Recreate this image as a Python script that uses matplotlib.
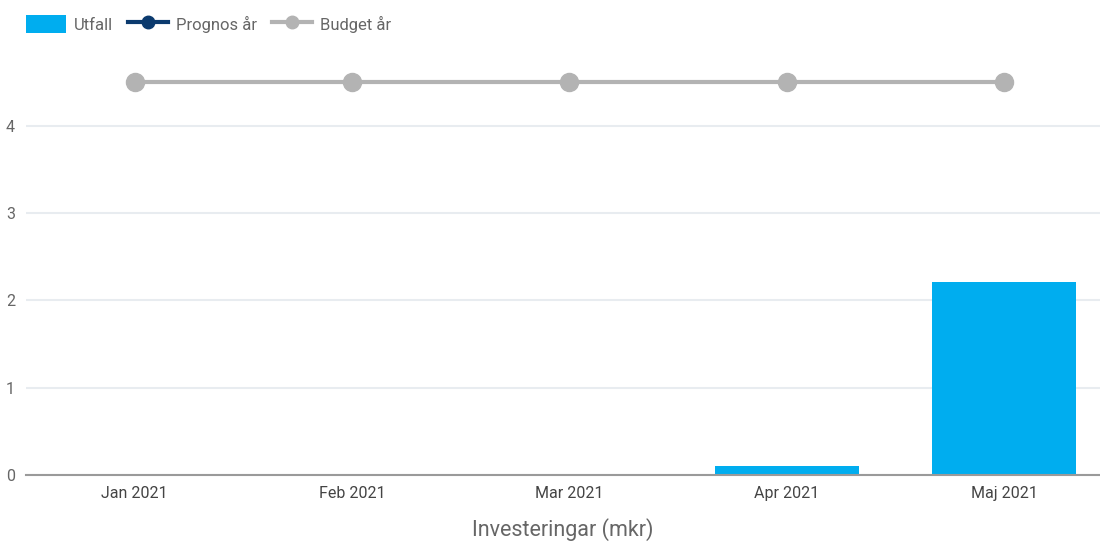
import matplotlib
matplotlib.use("Agg")
import matplotlib.pyplot as plt
from matplotlib.lines import Line2D
from matplotlib.patches import Patch
import numpy as np

months = ["Jan 2021", "Feb 2021", "Mar 2021", "Apr 2021", "Maj 2021"]
utfall = [0.0, 0.0, 0.0, 0.1, 2.21]
prognos = [np.nan, np.nan, np.nan, np.nan, np.nan]
budget = [4.5, 4.5, 4.5, 4.5, 4.5]
yticks = [0, 1, 2, 3, 4]

plt.rcParams['font.family'] = ['Roboto', 'DejaVu Sans']

W, H = 1100, 543
fig = plt.figure(figsize=(W / 100, H / 100), dpi=100)
left, right, top, bottom = 26, 1100, 62, 475
ax = fig.add_axes([left / W, 1 - bottom / H, (right - left) / W, (bottom - top) / H])

x = np.arange(len(months))
bar_color = "#00adef"
ax.bar(x, utfall, width=0.662, color=bar_color, zorder=2)
ax.plot(x, prognos, color="#0b3a6e", lw=3, marker="o", ms=10, zorder=3)
ax.plot(x, budget, color="#b3b3b3", lw=3, marker="o", ms=13, zorder=3)

ax.set_xlim(-0.5, (right - 134) / 217.5)
ax.set_ylim(0, 4.73)
ax.set_yticks(yticks)
ax.set_yticklabels([str(v) for v in yticks])
ax.set_xticks(x)
ax.set_xticklabels(months)
ax.grid(axis="y", color="#e8ecf0", lw=1.5, zorder=0)
for s in ["top", "right", "left"]:
    ax.spines[s].set_visible(False)
ax.spines["bottom"].set_color("#9a9a9a")
ax.spines["bottom"].set_linewidth(1.5)
ax.tick_params(axis="y", length=0, pad=8, labelsize=11.5, labelcolor="#666666")
ax.tick_params(axis="x", length=0, pad=8, labelsize=11.5, labelcolor="#444444")
ax.set_xlabel("Investeringar (mkr)", fontsize=15.5, color="#666666", labelpad=12)

handles = [
    Patch(facecolor=bar_color, edgecolor="none"),
    Line2D([0], [0], color="#0b3a6e", lw=3, marker="o", ms=9),
    Line2D([0], [0], color="#b3b3b3", lw=3, marker="o", ms=9),
]
fig.legend(handles, ["Utfall", "Prognos år", "Budget år"], loc="upper left",
           bbox_to_anchor=(26 / W, 1 - 15 / H), ncol=3, frameon=False,
           borderpad=0, borderaxespad=0,
           fontsize=12, labelcolor="#666666", handlelength=2.4, handleheight=1.3,
           handletextpad=0.48, columnspacing=0.9)

fig.savefig("out.png", dpi=100)
